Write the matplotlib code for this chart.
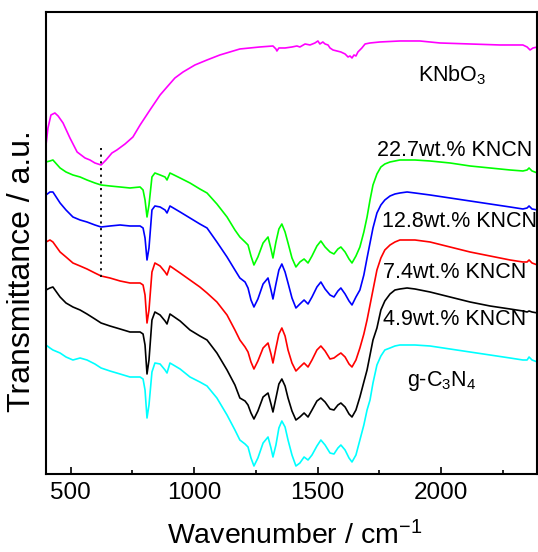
import numpy as np
import matplotlib
matplotlib.use('Agg')
import matplotlib.pyplot as plt
from matplotlib.ticker import MultipleLocator

plt.rcParams['font.family'] = ['Liberation Sans', 'DejaVu Sans']
plt.rcParams['mathtext.fontset'] = 'custom'
plt.rcParams['mathtext.rm'] = 'Liberation Sans'
plt.rcParams['mathtext.it'] = 'Liberation Sans:italic'

# wavenumbers (cm-1) shared by the g-C3N4 based samples
wn = [400, 416, 428, 457, 481, 509, 538, 566, 598, 623,
      659, 700, 740, 781, 793, 801, 809, 817, 829, 841,
      862, 882, 890, 902, 943, 983, 1023, 1052, 1092, 1133,
      1165, 1185, 1206, 1218, 1230, 1242, 1258, 1279, 1299, 1311,
      1319, 1331, 1343, 1355, 1368, 1380, 1396, 1412, 1428, 1445,
      1461, 1477, 1497, 1513, 1530, 1550, 1566, 1582, 1594, 1611,
      1627, 1639, 1655, 1671, 1687, 1700, 1712, 1724, 1740, 1756,
      1772, 1793, 1813, 1833, 1862, 1894, 1955, 2036, 2117, 2198,
      2279, 2331, 2348, 2356, 2368, 2390]

# transmittance (a.u., offset as in the figure)
t_gcn = [129, 126, 124, 121, 117, 114, 116, 114, 110, 106,
         103, 100, 97, 97, 95, 84, 56, 69, 102, 111,
         110, 104, 101, 111, 105, 97, 92, 88, 76, 59,
         44, 34, 30, 27, 16, 8, 16, 31, 37, 26,
         17, 29, 46, 53, 47, 34, 19, 8, 11, 17,
         14, 19, 28, 34, 29, 21, 20, 26, 29, 24,
         16, 12, 19, 34, 49, 64, 74, 91, 109, 118,
         124, 126, 128, 129, 129, 129, 128, 125, 122, 119,
         116, 114, 114, 117, 114, 112]

t_49 = [184, 186, 187, 177, 171, 167, 164, 160, 155, 151,
        148, 145, 142, 142, 140, 129, 100, 114, 154, 162,
        159, 153, 150, 160, 153, 144, 138, 134, 121, 104,
        89, 76, 73, 69, 61, 55, 63, 77, 81, 70,
        62, 76, 90, 95, 88, 76, 63, 54, 57, 61,
        57, 64, 73, 76, 72, 65, 64, 69, 71, 67,
        60, 57, 64, 77, 92, 104, 119, 134, 146, 164,
        173, 180, 184, 185, 186, 185, 182, 177, 172, 168,
        165, 163, 162, 163, 162, 161]

t_74 = [232, 234, 232, 222, 217, 211, 208, 205, 201, 198,
        196, 193, 191, 191, 189, 179, 151, 164, 202, 211,
        208, 202, 199, 208, 201, 194, 187, 181, 172, 159,
        144, 134, 127, 122, 112, 105, 113, 126, 131, 120,
        111, 126, 140, 146, 138, 124, 111, 103, 107, 111,
        107, 114, 124, 128, 123, 115, 116, 119, 121, 117,
        110, 107, 114, 126, 140, 154, 169, 184, 204, 216,
        224, 229, 232, 234, 234, 234, 232, 227, 222, 218,
        214, 212, 212, 214, 211, 209]

t_128 = [279, 282, 282, 271, 264, 257, 254, 252, 249, 247,
         248, 249, 248, 248, 246, 236, 214, 226, 264, 268,
         267, 264, 261, 268, 262, 256, 250, 246, 232, 217,
         204, 196, 192, 186, 174, 167, 175, 190, 196, 184,
         175, 190, 204, 210, 202, 191, 176, 166, 170, 174,
         170, 177, 187, 192, 185, 179, 177, 183, 186, 180,
         173, 169, 177, 184, 199, 216, 231, 246, 261, 269,
         274, 278, 280, 281, 282, 281, 279, 276, 273, 270,
         267, 265, 266, 268, 265, 264]

t_227 = [312, 313, 314, 306, 302, 299, 297, 294, 291, 289,
         288, 287, 286, 287, 284, 274, 257, 269, 297, 301,
         299, 297, 294, 301, 296, 291, 285, 281, 270, 257,
         244, 237, 232, 229, 218, 209, 217, 231, 237, 225,
         216, 232, 245, 250, 242, 231, 216, 207, 212, 215,
         211, 218, 228, 233, 227, 222, 220, 225, 227, 222,
         215, 211, 218, 227, 242, 257, 274, 289, 300, 307,
         310, 312, 313, 314, 314, 314, 313, 311, 308, 306,
         304, 303, 304, 306, 303, 301]

# KNbO3 on its own wavenumber list
wn_knbo = [400, 408, 420, 436, 449, 469, 497, 526, 558, 578,
           598, 623, 643, 667, 687, 720, 752, 781, 821, 862,
           890, 922, 955, 1003, 1052, 1104, 1185, 1266, 1319, 1331,
           1335, 1343, 1368, 1396, 1416, 1428, 1449, 1469, 1489, 1501,
           1509, 1521, 1530, 1542, 1550, 1562, 1578, 1594, 1611, 1623,
           1631, 1639, 1647, 1655, 1663, 1671, 1679, 1692, 1712, 1752,
           1833, 1914, 1995, 2117, 2238, 2331, 2348, 2360, 2372, 2390]
t_knbo = [329, 346, 359, 361, 358, 351, 336, 322, 316, 314,
          311, 309, 314, 321, 324, 330, 337, 349, 364, 379,
          387, 396, 402, 409, 414, 419, 425, 427, 428, 425,
          423, 426, 426, 427, 428, 427, 430, 429, 431, 433,
          430, 432, 430, 429, 426, 424, 423, 422, 420, 417,
          418, 416, 419, 418, 422, 424, 426, 430, 431, 432,
          433, 433, 431, 430, 429, 429, 427, 424, 426, 427]

labels = ['KNbO$_3$', '22.7wt.% KNCN', '12.8wt.% KNCN', '7.4wt.% KNCN',
          '4.9wt.% KNCN', 'g-C$_3$N$_4$']
colors = ['#ff00ff', '#00ff00', '#0000ff', '#ff0000', 'black', '#00ffff']

fig = plt.figure(figsize=(5.38, 5.52), dpi=100)
ax = fig.add_axes([0.0855, 0.1413, 0.9135, 0.837])

ax.plot(wn_knbo, t_knbo, color=colors[0], lw=1.2)
series = [t_227, t_128, t_74, t_49, t_gcn]
for k in range(5):
    ax.plot(wn, series[k], color=colors[k + 1], lw=1.2)

# dotted guide at the KNbO3 band
ax.plot([623, 623], [197, 326], color='black', ls=(0, (1.2, 2.5)), lw=1.3)

# label positions (left edge, baseline)
lab_x = [1906, 1740, 1760, 1764, 1764, 1862]
lab_y = [393, 318, 247, 196, 149, 88]
for k in range(6):
    ax.text(lab_x[k], lab_y[k], labels[k], fontsize=15.5, ha='left', va='baseline')

ax.set_xlim(400, 2390)
ax.set_ylim(0, 462)
ax.set_yticks([])
ax.xaxis.set_major_locator(MultipleLocator(500))
ax.xaxis.set_minor_locator(MultipleLocator(250))
ax.tick_params(axis='x', which='major', direction='in', length=5, width=1.2,
               labelsize=17.5, pad=6, top=False)
ax.tick_params(axis='x', which='minor', direction='in', length=3, width=1.2, top=False)
for s in ax.spines.values():
    s.set_linewidth(1.5)

fig.text(22 / 538, 1 - 271 / 552, 'Transmittance / a.u.', rotation=90,
         ha='center', va='center', fontsize=23)
fig.text(295 / 538, 1 - 544 / 552, 'Wavenumber / cm$^{-1}$', ha='center',
         va='baseline', fontsize=20.5)

fig.savefig('out.png', dpi=100)
